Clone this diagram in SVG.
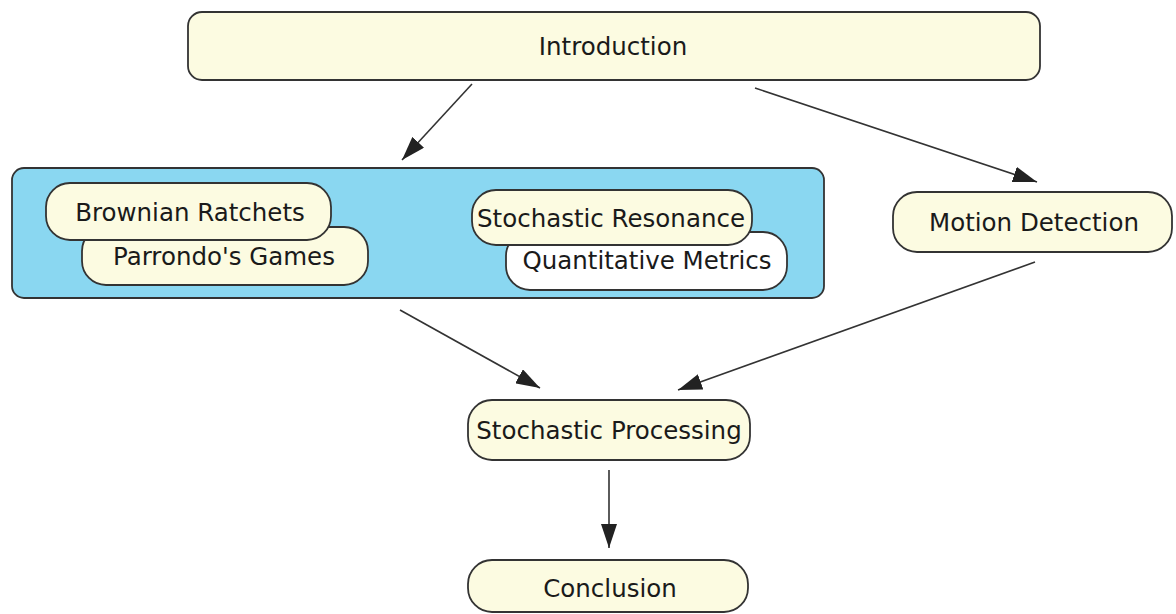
<svg xmlns="http://www.w3.org/2000/svg" width="1176" height="614" viewBox="0 0 1176 614">
<style>
.n{fill:#fcfbe1;stroke:#333;stroke-width:1.8}
.w{fill:#ffffff;stroke:#333;stroke-width:1.8}
.t{font-family:"DejaVu Sans","Liberation Sans",sans-serif;font-size:24.5px;fill:#1a1a1a;text-anchor:middle;dominant-baseline:central}
.c{stroke:#333;stroke-width:1.6;fill:none;marker-end:url(#a)}
</style>
<defs>
<marker id="a" markerWidth="26" markerHeight="16" refX="24" refY="8" orient="auto" markerUnits="userSpaceOnUse">
<path d="M0,0 L24,8 L0,16 Z" fill="#222"/>
</marker>
</defs>
<rect width="1176" height="614" fill="#fff"/>
<g id="introduction"><rect class="n" x="188" y="12" width="852" height="68" rx="14"/><text class="t" x="613" y="46">Introduction</text></g>
<g id="group-box"><rect x="12" y="168" width="812" height="130" rx="12" fill="#8ad7f1" stroke="#333" stroke-width="1.8"/></g>
<g id="parrondo"><rect class="n" x="82" y="227" width="286" height="58" rx="24"/><text class="t" x="224" y="256">Parrondo's Games</text></g>
<g id="brownian"><rect class="n" x="46" y="183" width="285" height="57" rx="24"/><text class="t" x="190" y="212">Brownian Ratchets</text></g>
<g id="quantitative"><rect class="w" x="506" y="232" width="281" height="58" rx="24"/><text class="t" x="647" y="260">Quantitative Metrics</text></g>
<g id="resonance"><rect class="n" x="472" y="190" width="280" height="55" rx="24"/><text class="t" x="611" y="218">Stochastic Resonance</text></g>
<g id="motion"><rect class="n" x="893" y="192" width="279" height="60" rx="24"/><text class="t" x="1034" y="222">Motion Detection</text></g>
<g id="processing"><rect class="n" x="468" y="400" width="282" height="60" rx="24"/><text class="t" x="609" y="430">Stochastic Processing</text></g>
<g id="conclusion"><rect class="n" x="468" y="560" width="280" height="52" rx="24"/><text class="t" x="610" y="588">Conclusion</text></g>
<g id="connectors">
<line class="c" x1="472" y1="84" x2="402" y2="160"/>
<line class="c" x1="755" y1="88" x2="1037" y2="182"/>
<line class="c" x1="400" y1="310" x2="540" y2="388"/>
<line class="c" x1="1035" y1="262" x2="678" y2="390"/>
<line class="c" x1="609" y1="470" x2="609" y2="548"/>
</g>
</svg>
